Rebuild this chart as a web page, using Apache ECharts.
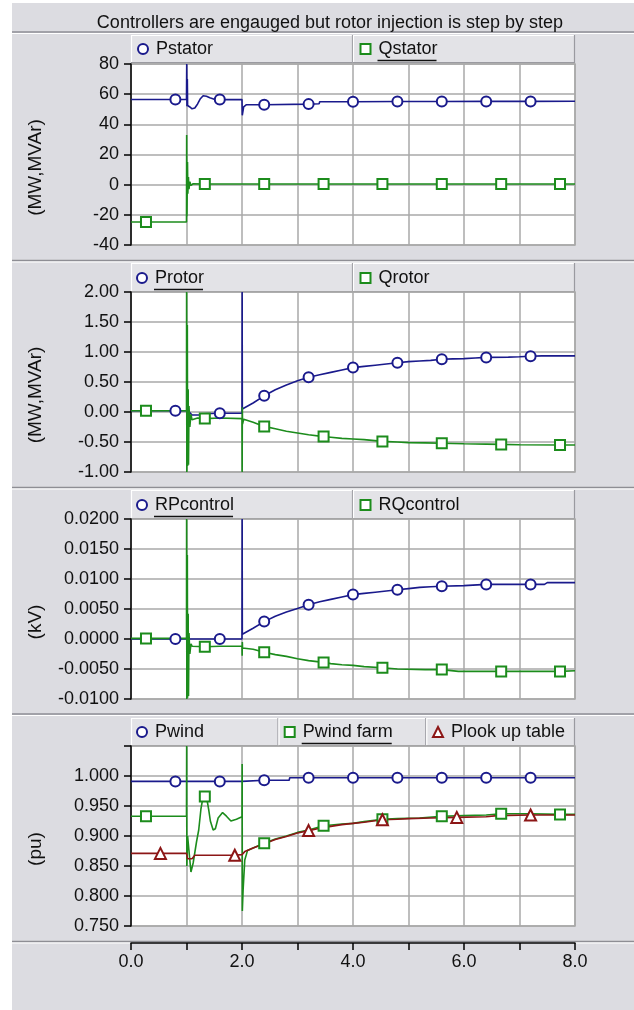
<!DOCTYPE html>
<html>
<head>
<meta charset="utf-8">
<script src="https://cdn.jsdelivr.net/npm/echarts@6/dist/echarts.min.js"></script>
<style>
  html, body { margin: 0; padding: 0; background: #fff; }
  #chart { width: 634px; height: 1010px; }
</style>
</head>
<body>
<div id="chart"></div>
<script>
// where the hollow markers sit on each trace (time, s)
const circleAt = [0.8, 1.6, 2.4, 3.2, 4.0, 4.8, 5.6, 6.4, 7.2]
const squareAt = [0.27, 1.33, 2.4, 3.47, 4.53, 5.6, 6.67, 7.73]
const triangleAt = [0.53, 1.87, 3.2, 4.53, 5.87, 7.2]

// [time s, value]
const pStator = [[0, 56.5], [0.8, 56.5], [1.0, 56.5], [1.004, 80], [1.008, 52], [1.015, 70], [1.02, 52.5], [1.06, 51.5],
  [1.1, 50.3], [1.15, 50.8], [1.2, 53.5], [1.25, 57], [1.3, 59], [1.36, 58.6], [1.42, 57.6], [1.5, 56.6], [1.6, 56.4],
  [2.0, 56.4], [2.005, 46], [2.03, 51.5], [2.08, 53], [2.4, 53], [3.2, 53.4], [3.39, 53.6], [3.4, 55.0], [4.0, 55.0],
  [4.8, 55.1], [5.6, 55.1], [6.4, 55.2], [7.2, 55.2], [8.0, 55.3]]
const qStator = [[0, -24.8], [0.27, -24.8], [1.0, -24.8], [1.003, 33], [1.008, -21], [1.018, 15], [1.024, -6], [1.035, 5],
  [1.045, -3], [1.06, 2], [1.08, -0.5], [1.12, 0.6], [1.33, 0.4], [2.0, 0.4], [2.01, 1.2], [2.02, 0.4], [2.4, 0.4],
  [3.47, 0.4], [4.53, 0.4], [5.6, 0.4], [6.67, 0.4], [7.73, 0.4], [8, 0.4]]

const pRotor = [[0, 0.02], [0.8, 0.02], [1.0, 0.02], [1.05, 0.0], [1.1, -0.05], [1.25, -0.05], [1.3, -0.03], [1.6, -0.02],
  [2.0, -0.02], [2.003, 2.0], [2.006, 0.05], [2.2, 0.15], [2.4, 0.27], [2.6, 0.37], [2.8, 0.45], [3.0, 0.52], [3.2, 0.58],
  [3.4, 0.62], [3.6, 0.66], [3.8, 0.70], [4.0, 0.74], [4.2, 0.76], [4.4, 0.78], [4.6, 0.80], [4.8, 0.82], [5.0, 0.84],
  [5.2, 0.85], [5.4, 0.86], [5.6, 0.88], [5.8, 0.885], [6.0, 0.89], [6.2, 0.90], [6.4, 0.91], [6.8, 0.915], [7.0, 0.92],
  [7.2, 0.93], [7.4, 0.935], [8, 0.935]]
const qRotor = [[0, 0.02], [0.27, 0.02], [1.0, 0.02], [1.002, 2.0], [1.006, -1.0], [1.015, 1.45], [1.02, -0.9], [1.03, 0.38],
  [1.036, -0.88], [1.045, 0.1], [1.06, -0.25], [1.08, -0.04], [1.1, -0.13], [1.2, -0.1], [1.33, -0.11], [1.6, -0.1],
  [2.0, -0.11], [2.003, -1.0], [2.006, 0.08], [2.01, -0.2], [2.03, -0.12], [2.2, -0.17], [2.4, -0.24], [2.6, -0.28],
  [2.8, -0.32], [3.0, -0.35], [3.2, -0.38], [3.47, -0.41], [3.6, -0.42], [3.8, -0.44], [4.0, -0.45], [4.2, -0.46],
  [4.53, -0.49], [4.8, -0.5], [5.0, -0.51], [5.3, -0.515], [5.6, -0.52], [6.0, -0.53], [6.4, -0.535], [6.67, -0.54],
  [7.0, -0.545], [7.73, -0.55], [8, -0.55]]

const rpControl = [[0, 0], [0.8, 0], [1.0, 0], [1.6, 0], [2.0, 0], [2.003, 0.02], [2.006, 0.0008], [2.2, 0.0018],
  [2.4, 0.0029], [2.6, 0.0038], [2.8, 0.0045], [3.0, 0.0051], [3.2, 0.0057], [3.4, 0.0062], [3.6, 0.0066], [3.8, 0.007],
  [4.0, 0.0074], [4.2, 0.0076], [4.4, 0.0078], [4.6, 0.008], [4.8, 0.0082], [5.0, 0.0084], [5.2, 0.0086], [5.4, 0.0087],
  [5.6, 0.0088], [6.0, 0.0089], [6.4, 0.0091], [7.2, 0.0091], [7.45, 0.0091], [7.5, 0.0094], [8, 0.0094]]
const rqControl = [[0, 0.0001], [0.27, 0.0001], [1.0, 0.0001], [1.002, 0.02], [1.006, -0.01], [1.015, 0.014],
  [1.02, -0.0098], [1.03, 0.0042], [1.036, -0.0095], [1.045, 0.001], [1.06, -0.0025], [1.08, -0.0008], [1.1, -0.0012],
  [1.33, -0.0013], [1.6, -0.0012], [2.0, -0.0012], [2.003, -0.0028], [2.006, -0.0005], [2.01, -0.0015], [2.2, -0.0017],
  [2.4, -0.0022], [2.6, -0.0026], [2.8, -0.0029], [3.0, -0.0033], [3.2, -0.0036], [3.47, -0.0039], [3.6, -0.0041],
  [3.8, -0.0043], [4.0, -0.0044], [4.2, -0.0046], [4.53, -0.0048], [4.8, -0.005], [5.3, -0.0051], [5.6, -0.0051],
  [5.9, -0.0054], [6.67, -0.0054], [7.73, -0.0054], [8, -0.0053]]

const pWind = [[0, 0.991], [0.8, 0.991], [1.6, 0.991], [2.0, 0.991], [2.01, 0.993], [2.4, 0.993], [2.85, 0.993],
  [2.86, 0.997], [3.2, 0.997], [4.0, 0.997], [4.8, 0.997], [5.6, 0.997], [6.4, 0.997], [7.2, 0.997], [8, 0.997]]
const pWindFarm = [[0, 0.933], [0.27, 0.933], [1.0, 0.933], [1.003, 1.05], [1.006, 0.85], [1.02, 0.9], [1.04, 0.9],
  [1.05, 0.87], [1.08, 0.84], [1.1, 0.84], [1.12, 0.855], [1.15, 0.855], [1.18, 0.89], [1.22, 0.91], [1.26, 0.945],
  [1.3, 0.966], [1.33, 0.966], [1.37, 0.96], [1.4, 0.944], [1.43, 0.925], [1.48, 0.91], [1.52, 0.912], [1.57, 0.93],
  [1.65, 0.939], [1.72, 0.933], [1.8, 0.925], [1.9, 0.928], [2.0, 0.932], [2.003, 1.02], [2.006, 0.775], [2.02, 0.81],
  [2.05, 0.86], [2.1, 0.876], [2.2, 0.88], [2.4, 0.888], [2.6, 0.895], [2.8, 0.9], [3.0, 0.906], [3.2, 0.91],
  [3.47, 0.917], [3.8, 0.92], [4.0, 0.921], [4.2, 0.924], [4.53, 0.928], [4.8, 0.929], [5.2, 0.93], [5.6, 0.933],
  [6.0, 0.934], [6.4, 0.935], [6.67, 0.937], [7.2, 0.937], [7.73, 0.936], [8, 0.936]]
const pLookUp = [[0, 0.871], [0.53, 0.871], [1.0, 0.871], [1.02, 0.862], [1.1, 0.862], [1.15, 0.868], [1.87, 0.868],
  [2.0, 0.869], [2.05, 0.874], [2.2, 0.88], [2.4, 0.887], [2.6, 0.894], [2.8, 0.899], [3.0, 0.905], [3.2, 0.909],
  [3.4, 0.913], [3.6, 0.916], [3.8, 0.919], [4.0, 0.921], [4.2, 0.923], [4.53, 0.927], [4.8, 0.928], [5.0, 0.929],
  [5.4, 0.93], [5.87, 0.931], [6.4, 0.932], [6.6, 0.934], [7.2, 0.935], [8, 0.935]]

const FONT = '"Liberation Sans", Arial, sans-serif'
const BLUE = '#1a1a8c'
const GREEN = '#1c8c1c'
const RED = '#8c1616'
const BG = '#dcdce1'
const GRIDLINE = '#a9a9a9'

// layout of the four stacked plots
const panels = [
  { top: 64, height: 181, min: -40, max: 80, interval: 20, digits: 0, unit: '(MW,MVAr)' },
  { top: 292, height: 180, min: -1, max: 2, interval: 0.5, digits: 2, unit: '(MW,MVAr)' },
  { top: 519, height: 180, min: -0.01, max: 0.02, interval: 0.005, digits: 4, unit: '(kV)' },
  { top: 746, height: 180, min: 0.75, max: 1.05, interval: 0.05, digits: 3, unit: '(pu)' }
]
const legendBoxes = [
  { top: 35, bottom: 63, cuts: [131, 353, 575] },
  { top: 263, bottom: 292, cuts: [131, 353, 575] },
  { top: 490, bottom: 519, cuts: [131, 353, 575] },
  { top: 718, bottom: 746, cuts: [131, 278.5, 426.3, 575] }
]
const separators = [32, 260.5, 487.5, 714, 941.5]

const traces = [
  { name: 'Pstator', pts: pStator, at: circleAt, symbol: 'emptyCircle', color: BLUE, panel: 0, left: 137, top: 40 },
  { name: 'Qstator', pts: qStator, at: squareAt, symbol: 'emptyRect', color: GREEN, panel: 0, left: 359.5, top: 40, ul: true },
  { name: 'Protor', pts: pRotor, at: circleAt, symbol: 'emptyCircle', color: BLUE, panel: 1, left: 136, top: 269, ul: true },
  { name: 'Qrotor', pts: qRotor, at: squareAt, symbol: 'emptyRect', color: GREEN, panel: 1, left: 359.5, top: 269 },
  { name: 'RPcontrol', pts: rpControl, at: circleAt, symbol: 'emptyCircle', color: BLUE, panel: 2, left: 136, top: 496, ul: true },
  { name: 'RQcontrol', pts: rqControl, at: squareAt, symbol: 'emptyRect', color: GREEN, panel: 2, left: 359.5, top: 496 },
  { name: 'Pwind', pts: pWind, at: circleAt, symbol: 'emptyCircle', color: BLUE, panel: 3, left: 136, top: 723 },
  { name: 'Pwind farm', pts: pWindFarm, at: squareAt, symbol: 'emptyRect', color: GREEN, panel: 3, left: 283.7, top: 723, ul: true },
  { name: 'Plook up table', pts: pLookUp, at: triangleAt, symbol: 'emptyTriangle', color: RED, panel: 3, left: 432, top: 723 }
]

const chart = echarts.init(document.getElementById('chart'))

const measure = document.createElement('canvas').getContext('2d')
measure.font = '18px ' + FONT

function marked(points, at, size) {
  return points.map(p => ({ value: p, symbolSize: at.indexOf(p[0]) >= 0 ? size : 0 }))
}

const graphics = [
  { type: 'rect', z: -100, shape: { x: 12, y: 3, width: 622, height: 1007 }, style: { fill: BG } }
]
separators.forEach(y => {
  graphics.push({ type: 'line', shape: { x1: 12, y1: y, x2: 634, y2: y }, style: { stroke: '#8e8e94', lineWidth: 1.5 } })
  graphics.push({ type: 'line', shape: { x1: 12, y1: y + 1.5, x2: 634, y2: y + 1.5 }, style: { stroke: '#fff', lineWidth: 1 } })
})
legendBoxes.forEach(b => {
  for (let i = 0; i < b.cuts.length - 1; i++) {
    const x1 = b.cuts[i], x2 = b.cuts[i + 1]
    graphics.push({ type: 'rect', shape: { x: x1, y: b.top, width: x2 - x1, height: b.bottom - b.top }, style: { fill: '#e3e3e7' } })
    graphics.push({ type: 'polyline', shape: { points: [[x1 + 0.5, b.bottom], [x1 + 0.5, b.top + 0.5], [x2, b.top + 0.5]] }, style: { stroke: '#fff', lineWidth: 1.2, fill: null } })
    graphics.push({ type: 'polyline', shape: { points: [[x1, b.bottom - 0.5], [x2 - 0.5, b.bottom - 0.5], [x2 - 0.5, b.top]] }, style: { stroke: '#9a9aa0', lineWidth: 1.2, fill: null } })
  }
})
traces.filter(t => t.ul).forEach(t => {
  const x = t.left + 18
  const w = measure.measureText(t.name).width
  graphics.push({ type: 'line', z: 10, shape: { x1: x, y1: t.top + 20.5, x2: x + w, y2: t.top + 20.5 }, style: { stroke: '#111', lineWidth: 1.5 } })
})

chart.setOption({
  animation: false,
  backgroundColor: '#fff',
  textStyle: { fontFamily: FONT },
  title: {
    text: 'Controllers are engauged but rotor injection is step by step',
    left: 325,
    textAlign: 'center',
    top: 9,
    textStyle: { fontSize: 18, fontWeight: 'normal', color: '#111', fontFamily: FONT }
  },
  graphic: graphics,
  legend: traces.map(t => ({
    data: [{ name: t.name, icon: t.symbol }],
    left: t.left,
    top: t.top,
    padding: 0,
    itemWidth: 10,
    itemHeight: 10,
    selectedMode: false,
    z: 6,
    textStyle: { fontSize: 18, color: '#111', fontFamily: FONT, padding: [0, 0, 0, 3] }
  })),
  grid: panels.map(p => ({
    left: 131,
    right: 59,
    top: p.top,
    height: p.height,
    show: true,
    backgroundColor: '#fff',
    borderColor: GRIDLINE,
    borderWidth: 1.5
  })),
  xAxis: panels.map((p, i) => {
    const last = i === panels.length - 1
    return {
      type: 'value',
      gridIndex: i,
      min: 0,
      max: 8,
      interval: 1,
      offset: last ? 17 : 0,
      axisLine: { show: last, onZero: false, lineStyle: { color: '#000', width: 1.5 } },
      axisTick: { show: last, length: 7, lineStyle: { color: '#000', width: 1.5 } },
      axisLabel: {
        show: last,
        margin: 10,
        fontSize: 18,
        color: '#111',
        formatter: v => (v % 2 === 0 ? v.toFixed(1) : '')
      },
      splitLine: { show: true, lineStyle: { color: GRIDLINE, width: 1.5 } }
    }
  }),
  yAxis: panels.map((p, i) => ({
    type: 'value',
    gridIndex: i,
    min: p.min,
    max: p.max,
    interval: p.interval,
    name: p.unit,
    nameLocation: 'middle',
    nameGap: 86,
    nameTextStyle: { fontSize: 19, color: '#111', fontFamily: FONT, padding: [0, 26, 0, 0] },
    axisLine: { show: true, onZero: false, lineStyle: { color: '#000', width: 1.5 } },
    axisTick: { show: true, length: 7, lineStyle: { color: '#000', width: 1.5 } },
    axisLabel: {
      margin: 12,
      fontSize: 18,
      color: '#111',
      formatter: v => (i === 3 && v > 1.01 ? '' : v.toFixed(p.digits))
    },
    splitLine: { show: true, lineStyle: { color: GRIDLINE, width: 1.5 } }
  })),
  series: traces.map(t => ({
    name: t.name,
    type: 'line',
    xAxisIndex: t.panel,
    yAxisIndex: t.panel,
    data: marked(t.pts, t.at, t.symbol === 'emptyTriangle' ? 11 : 10),
    symbol: t.symbol,
    showAllSymbol: true,
    clip: true,
    lineStyle: { color: t.color, width: 1.6 },
    itemStyle: { color: t.color, borderColor: t.color, borderWidth: 1.8 },
    emphasis: { disabled: true }
  }))
})
</script>
</body>
</html>
